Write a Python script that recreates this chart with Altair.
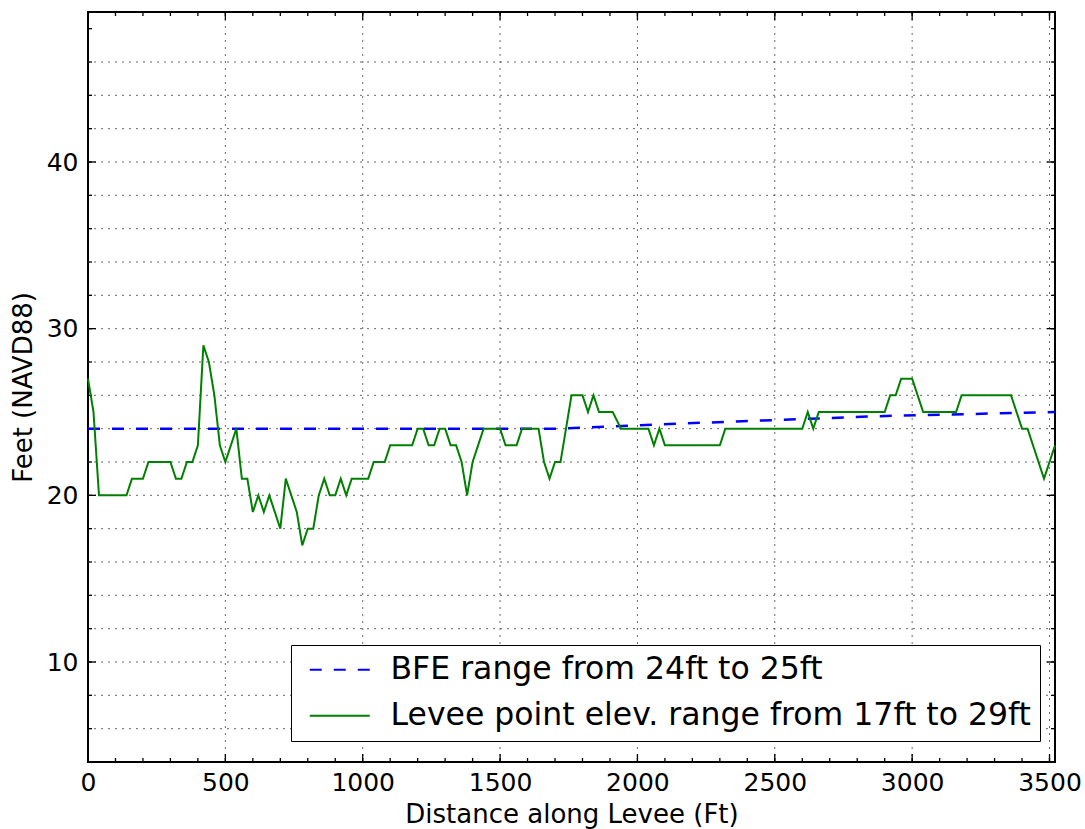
import altair as alt
import pandas as pd

# Levee crest survey: distance along levee (ft) and point elevation (ft, NAVD88)
distance_ft = [0, 20, 40, 140, 160, 200, 220, 300, 320, 340, 360, 380, 400, 420, 440,
               460, 480, 500, 540, 560, 580, 600, 620, 640, 660, 700, 720, 760, 780, 800,
               820, 840, 860, 880, 900, 920, 940, 960, 1020, 1040, 1080, 1100, 1180, 1200,
               1220, 1240, 1260, 1280, 1300, 1320, 1340, 1360, 1380, 1400, 1440, 1500, 1520,
               1560, 1580, 1640, 1660, 1680, 1700, 1720, 1760, 1800, 1820, 1840, 1860, 1910,
               1940, 2040, 2060, 2080, 2100, 2300, 2320, 2600, 2620, 2640, 2660, 2900, 2920,
               2940, 2960, 3000, 3040, 3160, 3180, 3360, 3400, 3420, 3480, 3520]
levee_elev_ft = [27, 25, 20, 20, 21, 21, 22, 22, 21, 21, 22, 22, 23, 29, 28,
                 26, 23, 22, 24, 21, 21, 19, 20, 19, 20, 18, 21, 19, 17, 18,
                 18, 20, 21, 20, 20, 21, 20, 21, 21, 22, 22, 23, 23, 24,
                 24, 23, 23, 24, 24, 23, 23, 22, 20, 22, 24, 24, 23,
                 23, 24, 24, 22, 21, 22, 22, 26, 26, 25, 26, 25, 25,
                 24, 24, 23, 24, 23, 23, 24, 24, 25, 24, 25, 25, 26,
                 26, 27, 27, 25, 25, 26, 26, 24, 24, 21, 23]

# Base flood elevation along the same reach
bfe_distance_ft = [0, 1720, 2180, 2880, 3520]
bfe_elev_ft = [24, 24, 24.32, 24.75, 25]

BFE_LABEL = "BFE range from 24ft to 25ft"
LEVEE_LABEL = "Levee point elev. range from 17ft to 29ft"

x_major = [0, 500, 1000, 1500, 2000, 2500, 3000, 3500]
x_minor = list(range(0, 3521, 100))
y_major = [10, 20, 30, 40]
y_minor = list(range(4, 49, 2))
y_grid = list(range(6, 47, 2))

X_DOMAIN = [0, 3520]
Y_DOMAIN = [4, 49]
W, H = 967, 750
FONT = "DejaVu Sans"

levee_df = pd.DataFrame({"x": distance_ft, "y": levee_elev_ft, "series": LEVEE_LABEL})
bfe_df = pd.DataFrame({"x": bfe_distance_ft, "y": bfe_elev_ft, "series": BFE_LABEL})

x_scale = alt.Scale(domain=X_DOMAIN, nice=False, zero=False)
y_scale = alt.Scale(domain=Y_DOMAIN, nice=False, zero=False)

x_axis = alt.Axis(values=x_major, format="d", ticks=False, grid=False, domain=False,
                  labelFlush=False, labelFontSize=25, labelPadding=8,
                  labelColor="black", labelFont=FONT,
                  titleFontSize=26, titleFont=FONT, titleFontWeight="normal",
                  titleColor="black", titlePadding=6)
y_axis = alt.Axis(values=y_major, format="d", ticks=False, grid=False, domain=False,
                  labelFlush=False, labelFontSize=25, labelPadding=10,
                  labelColor="black", labelFont=FONT,
                  titleFontSize=26, titleFont=FONT, titleFontWeight="normal",
                  titleColor="black", titlePadding=10)

X = alt.X("x:Q", scale=x_scale, axis=x_axis, title="Distance along Levee (Ft)")
Y = alt.Y("y:Q", scale=y_scale, axis=y_axis, title="Feet (NAVD88)")

series_domain = [BFE_LABEL, LEVEE_LABEL]
# line-sample symbol: 60 px long, drawn rightwards from a small symbol box
legend = alt.Legend(title=None, orient="none", legendX=203, legendY=633,
                    symbolType="M-0.6,0L5.4,0", symbolSize=400, symbolStrokeWidth=2,
                    labelFontSize=31.5, labelFont=FONT, labelColor="black",
                    labelLimit=2000, labelOffset=59, rowPadding=13, padding=9,
                    strokeColor="black", fillColor="white", cornerRadius=0)
color = alt.Color("series:N", scale=alt.Scale(domain=series_domain,
                                               range=["#0000ff", "#008000"]),
                  legend=legend)
dash = alt.StrokeDash("series:N", scale=alt.Scale(domain=series_domain,
                                                   range=[[12, 12], [1, 0]]),
                      legend=legend)

grid_style = dict(color="#444444", strokeWidth=1, strokeDash=[2, 5], opacity=0.8)

vgrid = alt.Chart(pd.DataFrame({"x": x_major[1:]})).mark_rule(**grid_style).encode(x=X)
hgrid = alt.Chart(pd.DataFrame({"y": y_grid})).mark_rule(**grid_style).encode(y=Y)

tick_style = dict(color="black", strokeWidth=1.3)
xmaj = pd.DataFrame({"x": x_major})
xmin = pd.DataFrame({"x": x_minor})
ymaj = pd.DataFrame({"y": y_major})
ymin = pd.DataFrame({"y": y_minor})

ticks = [
    alt.Chart(xmaj).mark_rule(**tick_style).encode(x=X, y=alt.value(H), y2=alt.value(H - 8)),
    alt.Chart(xmaj).mark_rule(**tick_style).encode(x=X, y=alt.value(0), y2=alt.value(8)),
    alt.Chart(xmin).mark_rule(**tick_style).encode(x=X, y=alt.value(H), y2=alt.value(H - 4)),
    alt.Chart(xmin).mark_rule(**tick_style).encode(x=X, y=alt.value(0), y2=alt.value(4)),
    alt.Chart(ymaj).mark_rule(**tick_style).encode(y=Y, x=alt.value(0), x2=alt.value(8)),
    alt.Chart(ymaj).mark_rule(**tick_style).encode(y=Y, x=alt.value(W), x2=alt.value(W - 8)),
    alt.Chart(ymin).mark_rule(**tick_style).encode(y=Y, x=alt.value(0), x2=alt.value(4)),
    alt.Chart(ymin).mark_rule(**tick_style).encode(y=Y, x=alt.value(W), x2=alt.value(W - 4)),
]

bfe_line = alt.Chart(bfe_df).mark_line(strokeWidth=2.5).encode(
    x=X, y=Y, color=color, strokeDash=dash)
levee_line = alt.Chart(levee_df).mark_line(strokeWidth=2).encode(
    x=X, y=Y, color=color, strokeDash=dash)

chart = alt.layer(vgrid, hgrid, *ticks, bfe_line, levee_line).properties(
    width=W, height=H,
    autosize=alt.AutoSizeParams(type="none"),
    padding={"left": 88, "top": 12, "right": 30, "bottom": 67},
    background="white",
).configure_view(stroke="black", strokeWidth=2)

chart.save("out.html", embed_options={"renderer": "svg", "actions": False})
